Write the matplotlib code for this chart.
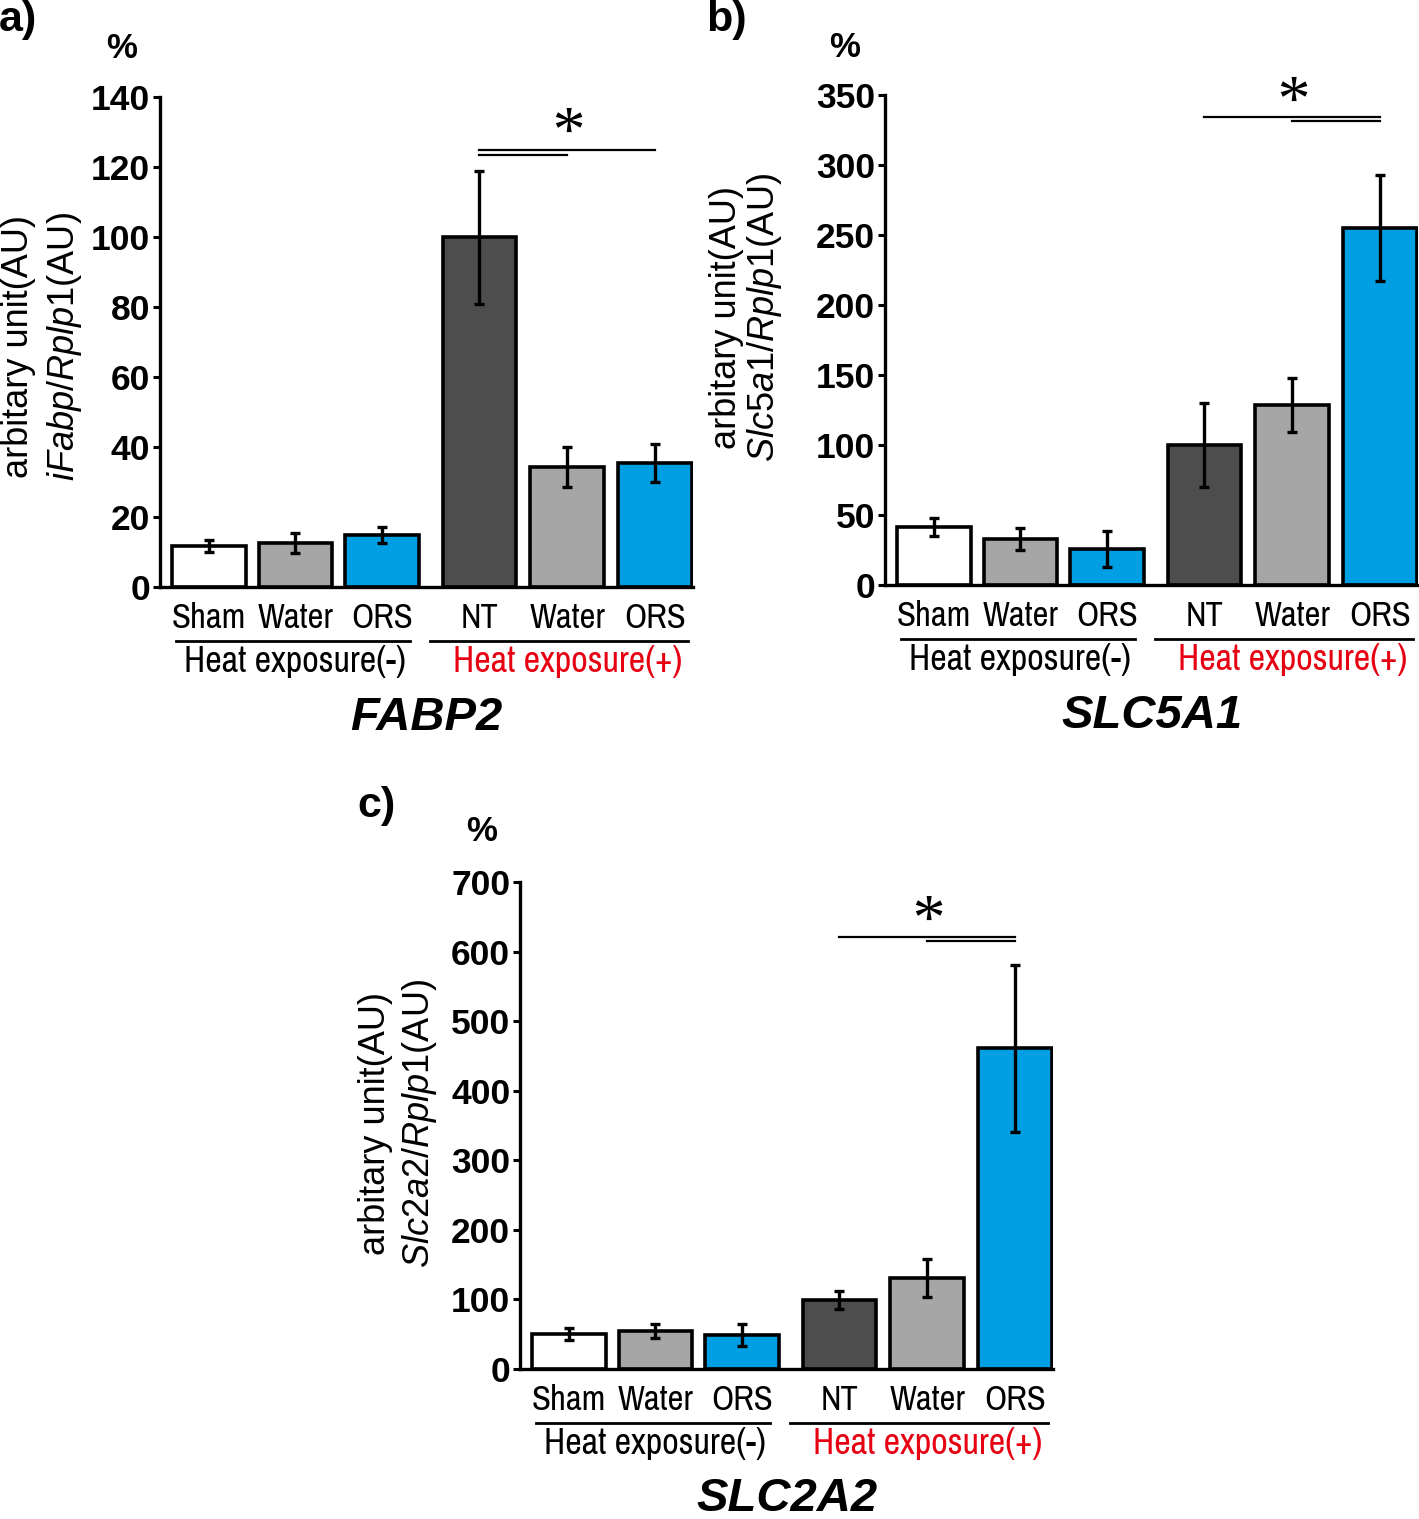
import matplotlib
matplotlib.use('Agg')
import matplotlib.pyplot as plt
from matplotlib import font_manager
from matplotlib.textpath import TextPath
from matplotlib.path import Path
from matplotlib.font_manager import FontProperties
from matplotlib.transforms import blended_transform_factory

# ---------------- data ----------------
categories = ['Sham', 'Water', 'ORS', 'NT', 'Water', 'ORS']
groups = ['Heat exposure(-)', 'Heat exposure(+)']

fabp2_mean = [11.7, 12.6, 14.9, 100.0, 34.3, 35.4]
fabp2_err = [1.6, 2.9, 2.2, 19.0, 5.7, 5.4]
fabp2_ticks = [0, 20, 40, 60, 80, 100, 120, 140]
fabp2_sig = [124.9, 123.4, 131.0]   # upper line, lower line, star

slc5a1_mean = [41.4, 32.9, 25.7, 100.0, 128.6, 255.0]
slc5a1_err = [6.4, 8.0, 13.0, 30.0, 19.6, 38.0]
slc5a1_ticks = [0, 50, 100, 150, 200, 250, 300, 350]
slc5a1_sig = [334.3, 331.4, 348.0]

slc2a2_mean = [50.3, 54.6, 48.9, 99.2, 130.8, 461.0]
slc2a2_err = [9.0, 10.0, 16.0, 13.0, 27.0, 120.0]
slc2a2_ticks = [0, 100, 200, 300, 400, 500, 600, 700]
slc2a2_sig = [621.0, 615.2, 649.0]

# ---------------- style ----------------
names = {f.name for f in font_manager.fontManager.ttflist}
NARROW = 'Archivo Narrow' if 'Archivo Narrow' in names else (
    'Liberation Sans Narrow' if 'Liberation Sans Narrow' in names else 'Liberation Sans')
REG = 'Liberation Sans'
plt.rcParams['mathtext.fontset'] = 'custom'
plt.rcParams['mathtext.rm'] = REG
plt.rcParams['mathtext.it'] = REG + ':italic'

bar_colors = ['#ffffff', '#a6a6a6', '#009fe3', '#4d4d4d', '#a6a6a6', '#009fe3']
RED = '#e60012'
x_pos = [0, 1, 2, 3.12, 4.13, 5.14]
W = 0.85

fig = plt.figure(figsize=(14.19, 15.19), dpi=100)
FW, FH = 1419, 1519


def px_axes(l, r, top, bottom):
    return fig.add_axes([l / FW, 1 - bottom / FH, (r - l) / FW, (bottom - top) / FH])


tp = TextPath((0, 0), '*', prop=FontProperties(family='Liberation Serif'), size=1)
v = tp.vertices
c = (v.min(0) + v.max(0)) / 2
STAR = Path(v - c, tp.codes)


def panel(ax, mean, err, ticks, gene, ylab_pos, pct_pos):
    ax.bar(x_pos, mean, width=W, color=bar_colors, edgecolor='black', linewidth=2.6, zorder=2)
    ax.errorbar(x_pos, mean, yerr=err, fmt='none', ecolor='black', elinewidth=2.4,
                capsize=3.5, capthick=2.4, zorder=3)
    ax.set_xlim(-0.56, 5.58)
    ax.set_ylim(0, ticks[-1])
    ax.set_yticks(ticks)
    ax.set_yticklabels([str(t) for t in ticks], fontfamily=REG, fontweight='bold', fontsize=25.5)
    ax.tick_params(axis='y', direction='out', length=5, width=2.2, pad=2)
    ax.set_xticks(x_pos)
    ax.set_xticklabels(categories, fontfamily=NARROW, fontsize=25)
    ax.tick_params(axis='x', length=0, pad=11)
    for s in ['top', 'right']:
        ax.spines[s].set_visible(False)
    for s in ['left', 'bottom']:
        ax.spines[s].set_linewidth(2.4)
    tr = blended_transform_factory(ax.transData, ax.transAxes)
    # group underlines and labels
    ax.plot([-0.38, 2.32], [-0.110, -0.110], transform=tr, color='black', lw=2, clip_on=False)
    ax.plot([2.55, 5.52], [-0.110, -0.110], transform=tr, color='black', lw=2, clip_on=False)
    ax.text(x_pos[1], -0.152, groups[0], transform=tr, ha='center', va='center',
            fontfamily=NARROW, fontsize=26, color='black')
    ax.text(x_pos[4], -0.152, groups[1], transform=tr, ha='center', va='center',
            fontfamily=NARROW, fontsize=26, color=RED)
    # gene title
    ax.text(0.5, -0.267, gene, transform=ax.transAxes, ha='center', va='center',
            fontfamily=REG, fontweight='bold', fontstyle='italic', fontsize=34)
    # y labels
    ax.text(ylab_pos[0], ylab_pos[2], 'arbitary unit(AU)', transform=ax.transAxes, rotation=90,
            ha='center', va='center', fontfamily=REG, fontsize=26)
    ax.text(ylab_pos[1], ylab_pos[2], ylab_pos[3], transform=ax.transAxes, rotation=90,
            ha='center', va='center', fontfamily=REG, fontsize=26)
    ax.text(pct_pos[0], pct_pos[1], '%', transform=ax.transAxes, ha='center', va='center',
            fontfamily=REG, fontweight='bold', fontsize=25)


def sig_marks(ax, sig, upper, lower, star_x):
    ax.plot(upper, [sig[0], sig[0]], color='black', lw=1.6, clip_on=False)
    ax.plot(lower, [sig[1], sig[1]], color='black', lw=1.6, clip_on=False)
    ax.plot([star_x], [sig[2]], marker=STAR, ms=31, color='black', mew=0, clip_on=False)


ax_a = px_axes(160, 693, 97, 587)
panel(ax_a, fabp2_mean, fabp2_err, fabp2_ticks, 'FABP2',
      (-0.265, -0.180, 0.49, r'$\mathit{iFabp/Rplp1}$(AU)'), (-0.073, 1.10))
sig_marks(ax_a, fabp2_sig, [x_pos[3], x_pos[5]], [x_pos[3], x_pos[4]], x_pos[4])

ax_b = px_axes(885, 1418, 95, 585)
panel(ax_b, slc5a1_mean, slc5a1_err, slc5a1_ticks, 'SLC5A1',
      (-0.298, -0.226, 0.545, r'$\mathit{Slc5a1/Rplp1}$(AU)'), (-0.075, 1.096))
sig_marks(ax_b, slc5a1_sig, [x_pos[3], x_pos[5]], [x_pos[4], x_pos[5]], x_pos[4])

ax_c = px_axes(520, 1053, 882, 1369)
panel(ax_c, slc2a2_mean, slc2a2_err, slc2a2_ticks, 'SLC2A2',
      (-0.272, -0.188, 0.505, r'$\mathit{Slc2a2/Rplp1}$(AU)'), (-0.073, 1.103))
sig_marks(ax_c, slc2a2_sig, [x_pos[3], x_pos[5]], [x_pos[4], x_pos[5]], x_pos[4])

for lab, x, y in [('a)', 18, 20), ('b)', 726, 20), ('c)', 376, 806)]:
    fig.text(x / FW, 1 - y / FH, lab, ha='center', va='center', fontfamily=REG,
             fontweight='bold', fontsize=31)

fig.savefig('out.png', dpi=100)
